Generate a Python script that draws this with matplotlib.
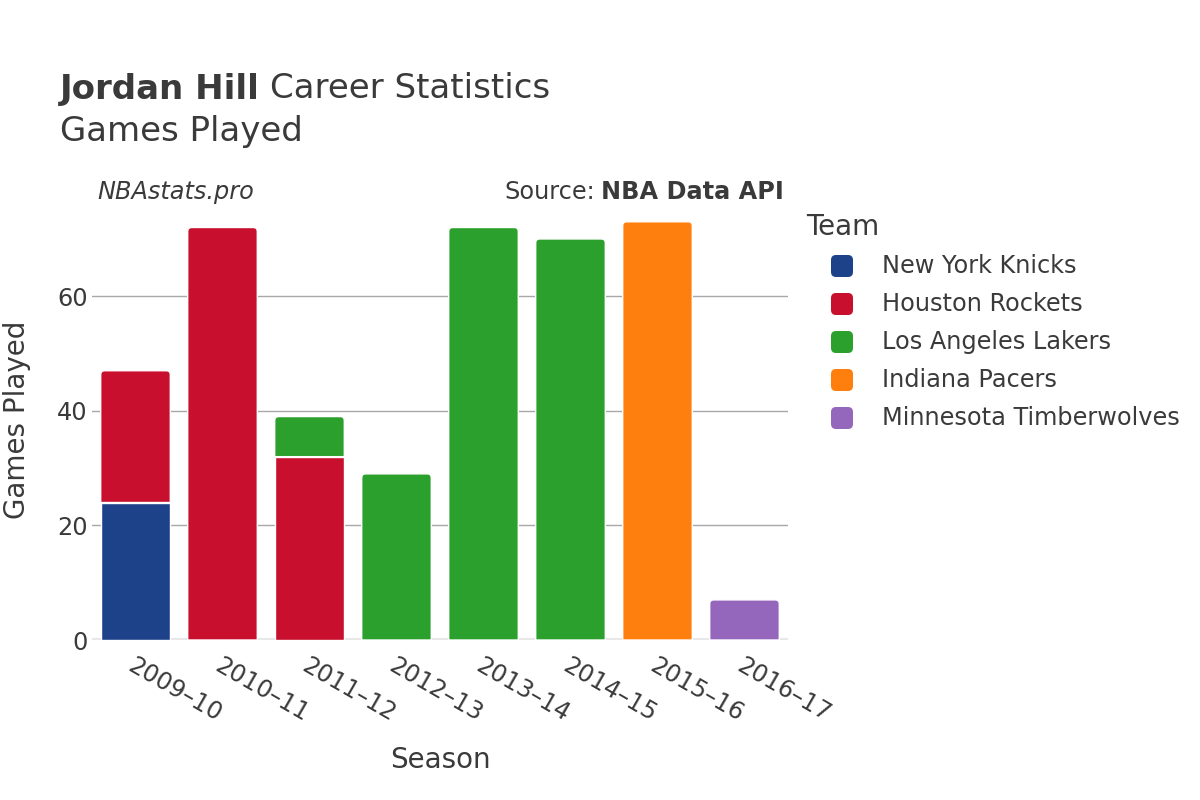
import numpy as np
import matplotlib.pyplot as plt
from matplotlib.path import Path
from matplotlib.patches import PathPatch, FancyBboxPatch

seasons = ["2009–10", "2010–11", "2011–12", "2012–13",
           "2013–14", "2014–15", "2015–16", "2016–17"]
teams = ["New York Knicks", "Houston Rockets", "Los Angeles Lakers",
         "Indiana Pacers", "Minnesota Timberwolves"]
colors = ["#1d428a", "#c8102e", "#2ca02c", "#ff7f0e", "#9467bd"]

knicks = [24, 0, 0, 0, 0, 0, 0, 0]
rockets = [23, 72, 32, 0, 0, 0, 0, 0]
lakers = [0, 0, 7, 29, 72, 70, 0, 0]
pacers = [0, 0, 0, 0, 0, 0, 73, 0]
wolves = [0, 0, 0, 0, 0, 0, 0, 7]
games = [knicks, rockets, lakers, pacers, wolves]

TXT = "#3a3a3a"
W, H = 1200, 800

fig = plt.figure(figsize=(12, 8), dpi=100)
ax = fig.add_axes([92 / W, 1 - 640 / H, (788 - 92) / W, (640 - 200) / H])
ax.patch.set_alpha(0)

YMAX = 76.8
ax.set_xlim(-0.5, len(seasons) - 0.5)
ax.set_ylim(0, YMAX)

# corner radius of ~4 px, converted to data units
rx = 4 / ((788 - 92) / len(seasons))
ry = 4 / ((640 - 200) / YMAX)


def bar_path(xc, w, b, t, rounded):
    x0, x1 = xc - w / 2, xc + w / 2
    if not rounded:
        verts = [(x0, b), (x1, b), (x1, t), (x0, t), (x0, b)]
        codes = [Path.MOVETO] + [Path.LINETO] * 3 + [Path.CLOSEPOLY]
    else:
        verts = [(x0, b), (x1, b), (x1, t - ry), (x1, t), (x1 - rx, t),
                 (x0 + rx, t), (x0, t), (x0, t - ry), (x0, b)]
        codes = [Path.MOVETO, Path.LINETO, Path.LINETO, Path.CURVE3, Path.CURVE3,
                 Path.LINETO, Path.CURVE3, Path.CURVE3, Path.CLOSEPOLY]
    return Path(verts, codes)


bottoms = np.zeros(len(seasons))
totals = np.sum(np.array(games), axis=0)
for vals, col in zip(games, colors):
    for i, v in enumerate(vals):
        if v <= 0:
            continue
        top = bottoms[i] + v
        p = bar_path(i, 0.8, bottoms[i], top, np.isclose(top, totals[i]))
        ax.add_patch(PathPatch(p, facecolor=col, edgecolor="white", lw=1, zorder=3))
    bottoms += np.array(vals)

# grid and axes styling
ax.set_yticks([0, 20, 40, 60])
ax.yaxis.grid(True, color="#a8a8a8", lw=1)
ax.axhline(0, color="#e8e8e8", lw=3, zorder=2)
ax.set_axisbelow(True)
for s in ax.spines.values():
    s.set_visible(False)
ax.tick_params(axis="both", length=0, labelsize=17.3, labelcolor=TXT)
ax.tick_params(axis="y", pad=3)
ax.set_xticks(range(len(seasons)))
ax.set_xticklabels(seasons, rotation=-30, ha="left", va="top", rotation_mode="anchor")
ax.tick_params(axis="x", pad=10)

# overlay in pixel coordinates for titles and legend
ov = fig.add_axes([0, 0, 1, 1], zorder=-1)
ov.set_xlim(0, W)
ov.set_ylim(H, 0)
ov.axis("off")

ov.text(17, 420, "Games Played", fontsize=20, color=TXT, va="center", ha="center",
        rotation=90)
ov.text(440, 760, "Season", fontsize=20, color=TXT, va="center", ha="center")

renderer = fig.canvas.get_renderer()
inv = ov.transData.inverted()

t1 = ov.text(60, 89, "Jordan Hill", fontsize=24.5, fontweight="bold", color=TXT,
             va="center")
bb = t1.get_window_extent(renderer)
x_end = inv.transform((bb.x1, bb.y0))[0]
ov.text(x_end + 10, 89, "Career Statistics", fontsize=24.5, color=TXT, va="center")
ov.text(60, 132, "Games Played", fontsize=24.5, color=TXT, va="center")
ov.text(97, 192, "NBAstats.pro", fontsize=17.3, style="italic", color=TXT, va="center")
t2 = ov.text(784, 192, "NBA Data API", fontsize=17.3, fontweight="bold", color=TXT,
             va="center", ha="right")
bb = t2.get_window_extent(renderer)
x_start = inv.transform((bb.x0, bb.y0))[0]
ov.text(x_start - 6, 192, "Source:", fontsize=17.3, color=TXT, va="center", ha="right")

ov.text(806, 227, "Team", fontsize=20, color=TXT, va="center")
for k, (name, col) in enumerate(zip(teams, colors)):
    yc = 266 + k * 38
    ov.add_patch(FancyBboxPatch((831, yc - 11), 22, 22,
                                boxstyle="round,pad=0,rounding_size=5",
                                facecolor=col, edgecolor="none"))
    ov.text(882, yc, name, fontsize=17.3, color=TXT, va="center")

fig.savefig("out.png", dpi=100)
